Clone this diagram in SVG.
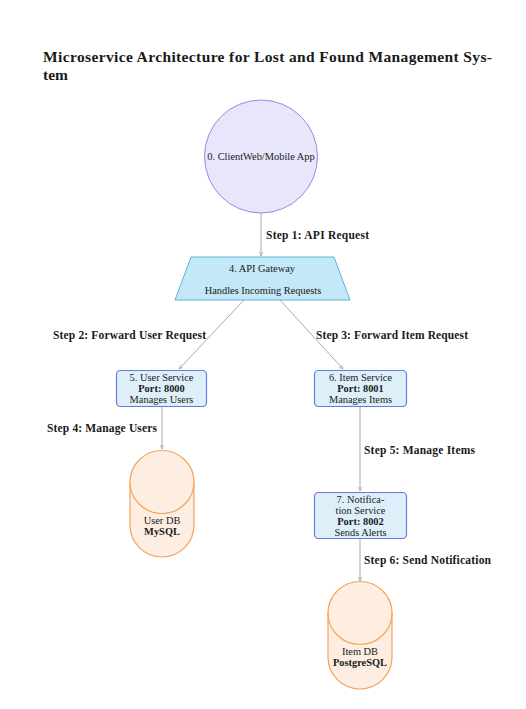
<svg xmlns="http://www.w3.org/2000/svg" width="526" height="709" viewBox="0 0 526 709">
  <defs>
    <marker id="arrow" viewBox="0 0 10 10" refX="9" refY="5" markerWidth="5" markerHeight="5" orient="auto">
      <path d="M1,1.5 L9,5 L1,8.5" fill="none" stroke="#a8a8a8" stroke-width="1.4"/>
    </marker>
    <style>
      text { font-family: "Liberation Serif", "DejaVu Serif", serif; fill: #1a1a1a; }
      .title { font-size: 15.5px; font-weight: bold; }
      .node { font-size: 10.4px; text-anchor: middle; }
      .b { font-weight: bold; }
      .step { font-size: 11.5px; font-weight: bold; }
      .edge { stroke: #aaaaaa; stroke-width: 1; fill: none; marker-end: url(#arrow); }
      .svc { fill: #ddf0fa; stroke: #6a78e6; stroke-width: 1.2; }
      .db { fill: #fdeee1; stroke: #f2a55a; stroke-width: 1.2; }
    </style>
  </defs>
  <rect width="526" height="709" fill="#ffffff"/>

  <text class="title" x="43" y="62" textLength="449" lengthAdjust="spacing">Microservice Architecture for Lost and Found Management Sys-</text>
  <text class="title" x="43" y="80">tem</text>

  <!-- connectors -->
  <g id="connectors">
    <line class="edge" x1="261" y1="213" x2="261" y2="256"/>
    <line class="edge" x1="244" y1="300" x2="179" y2="369"/>
    <line class="edge" x1="280" y1="300" x2="343" y2="369"/>
    <line class="edge" x1="162" y1="407" x2="162" y2="449"/>
    <line class="edge" x1="360" y1="407" x2="360" y2="491"/>
    <line class="edge" x1="360" y1="539" x2="360" y2="581"/>
    <text class="step" x="266" y="239" textLength="103" lengthAdjust="spacing">Step 1: API Request</text>
    <text class="step" x="53" y="339" textLength="153" lengthAdjust="spacing">Step 2: Forward User Request</text>
    <text class="step" x="316" y="339" textLength="152" lengthAdjust="spacing">Step 3: Forward Item Request</text>
    <text class="step" x="47" y="432" textLength="110" lengthAdjust="spacing">Step 4: Manage Users</text>
    <text class="step" x="364" y="454" textLength="111" lengthAdjust="spacing">Step 5: Manage Items</text>
    <text class="step" x="364" y="564" textLength="127" lengthAdjust="spacing">Step 6: Send Notification</text>
  </g>

  <g id="client">
    <circle cx="261" cy="156.5" r="56.5" fill="#e8e6fb" stroke="#8f8ce6" stroke-width="1"/>
    <text class="node" x="261" y="160">0. ClientWeb/Mobile App</text>
  </g>

  <g id="gateway">
    <polygon points="191,257 334,257 350,300 175,300" fill="#c3e8f7" stroke="#5ab6da" stroke-width="1"/>
    <text class="node" x="262" y="272">4. API Gateway</text>
    <text class="node" x="263" y="294">Handles Incoming Requests</text>
  </g>

  <g id="user-service">
    <rect class="svc" x="116.5" y="370.5" width="90" height="36" rx="4"/>
    <text class="node" x="161.5" y="381">5. User Service</text>
    <text class="node b" x="161.5" y="392">Port: 8000</text>
    <text class="node" x="161.5" y="403">Manages Users</text>
  </g>

  <g id="item-service">
    <rect class="svc" x="314.5" y="370.5" width="92" height="36" rx="4"/>
    <text class="node" x="360.5" y="381">6. Item Service</text>
    <text class="node b" x="360.5" y="392">Port: 8001</text>
    <text class="node" x="360.5" y="403">Manages Items</text>
  </g>

  <g id="notification-service">
    <rect class="svc" x="314.5" y="492.5" width="92" height="46" rx="4"/>
    <text class="node" x="360.5" y="503">7. Notifica-</text>
    <text class="node" x="360.5" y="514">tion Service</text>
    <text class="node b" x="360.5" y="525">Port: 8002</text>
    <text class="node" x="360.5" y="536">Sends Alerts</text>
  </g>

  <g id="user-db">
    <path class="db" d="M130,482 A32,31.5 0 0 1 194,482 L194,525 A32,32 0 0 1 130,525 Z"/>
    <path class="db" d="M130,482 A32,31.5 0 0 0 194,482" fill="none"/>
    <text class="node" x="162" y="523.5">User DB</text>
    <text class="node b" x="162" y="534.5">MySQL</text>
  </g>

  <g id="item-db">
    <path class="db" d="M328,613 A32,31.5 0 0 1 392,613 L392,657 A32,32 0 0 1 328,657 Z"/>
    <path class="db" d="M328,613 A32,31.5 0 0 0 392,613" fill="none"/>
    <text class="node" x="360" y="654.5">Item DB</text>
    <text class="node b" x="360" y="665.5">PostgreSQL</text>
  </g>
</svg>
